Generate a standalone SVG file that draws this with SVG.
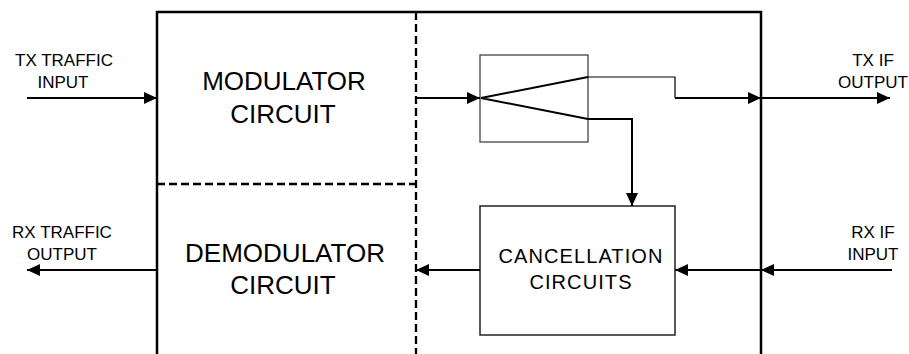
<svg xmlns="http://www.w3.org/2000/svg" width="909" height="354" viewBox="0 0 909 354">
<defs>
<style>
text{font-family:"Liberation Sans",Arial,sans-serif;fill:#000;text-anchor:middle}
.lbl{font-size:17px}
.big{font-size:26px}
.mid{font-size:20px;letter-spacing:1.1px}
.wire{stroke:#000;stroke-width:2;fill:none}
.thin{stroke:#000;stroke-width:1.2;fill:none}
.dash{stroke:#000;stroke-width:2.3;fill:none;stroke-dasharray:8,4}
</style>
<marker id="ah" markerUnits="userSpaceOnUse" markerWidth="14" markerHeight="12" refX="13" refY="6" orient="auto">
<path d="M0,0 L13,6 L0,12 z" fill="#000"/>
</marker>
</defs>
<rect width="909" height="354" fill="#fff"/>
<g id="outer-box">
<path d="M157,356 V12 H761 V356" stroke="#000" stroke-width="2.5" fill="none"/>
<path class="dash" d="M416,12 V356"/>
<path class="dash" d="M157,184 H416"/>
</g>
<g id="modulator">
<text class="big" x="284" y="90">MODULATOR</text>
<text class="big" x="283" y="123">CIRCUIT</text>
</g>
<g id="demodulator">
<text class="big" x="285" y="262">DEMODULATOR</text>
<text class="big" x="283" y="294">CIRCUIT</text>
</g>
<g id="splitter">
<rect x="480" y="55" width="108" height="87" fill="none" stroke="#444" stroke-width="1.3"/>
<path class="wire" d="M481,98 L588,77 M481,98 L588,119"/>
</g>
<g id="cancellation">
<rect x="480" y="206" width="195" height="129" fill="none" stroke="#222" stroke-width="1.5"/>
<text class="mid" x="581" y="263">CANCELLATION</text>
<text class="mid" x="581" y="289">CIRCUITS</text>
</g>
<g id="labels">
<text class="lbl" x="64" y="66">TX TRAFFIC</text>
<text class="lbl" x="63" y="88">INPUT</text>
<text class="lbl" x="62" y="238">RX TRAFFIC</text>
<text class="lbl" x="62" y="260">OUTPUT</text>
<text class="lbl" x="873" y="66">TX IF</text>
<text class="lbl" x="873" y="88">OUTPUT</text>
<text class="lbl" x="873" y="238">RX IF</text>
<text class="lbl" x="873" y="260">INPUT</text>
</g>
<g id="connectors">
<path class="wire" d="M27,98 H157" marker-end="url(#ah)"/>
<path class="wire" d="M416,98 H480" marker-end="url(#ah)"/>
<path class="thin" d="M588,77 H675 V98"/>
<path class="wire" d="M675,98 H761" marker-end="url(#ah)"/>
<path class="wire" d="M761,98 H890" marker-end="url(#ah)"/>
<path class="wire" d="M588,119 H632 V206" marker-end="url(#ah)"/>
<path class="wire" d="M892,270 H761" marker-end="url(#ah)"/>
<path class="wire" d="M761,270 H675" marker-end="url(#ah)"/>
<path class="wire" d="M480,270 H416" marker-end="url(#ah)"/>
<path class="wire" d="M157,270 H27" marker-end="url(#ah)"/>
</g>
</svg>
